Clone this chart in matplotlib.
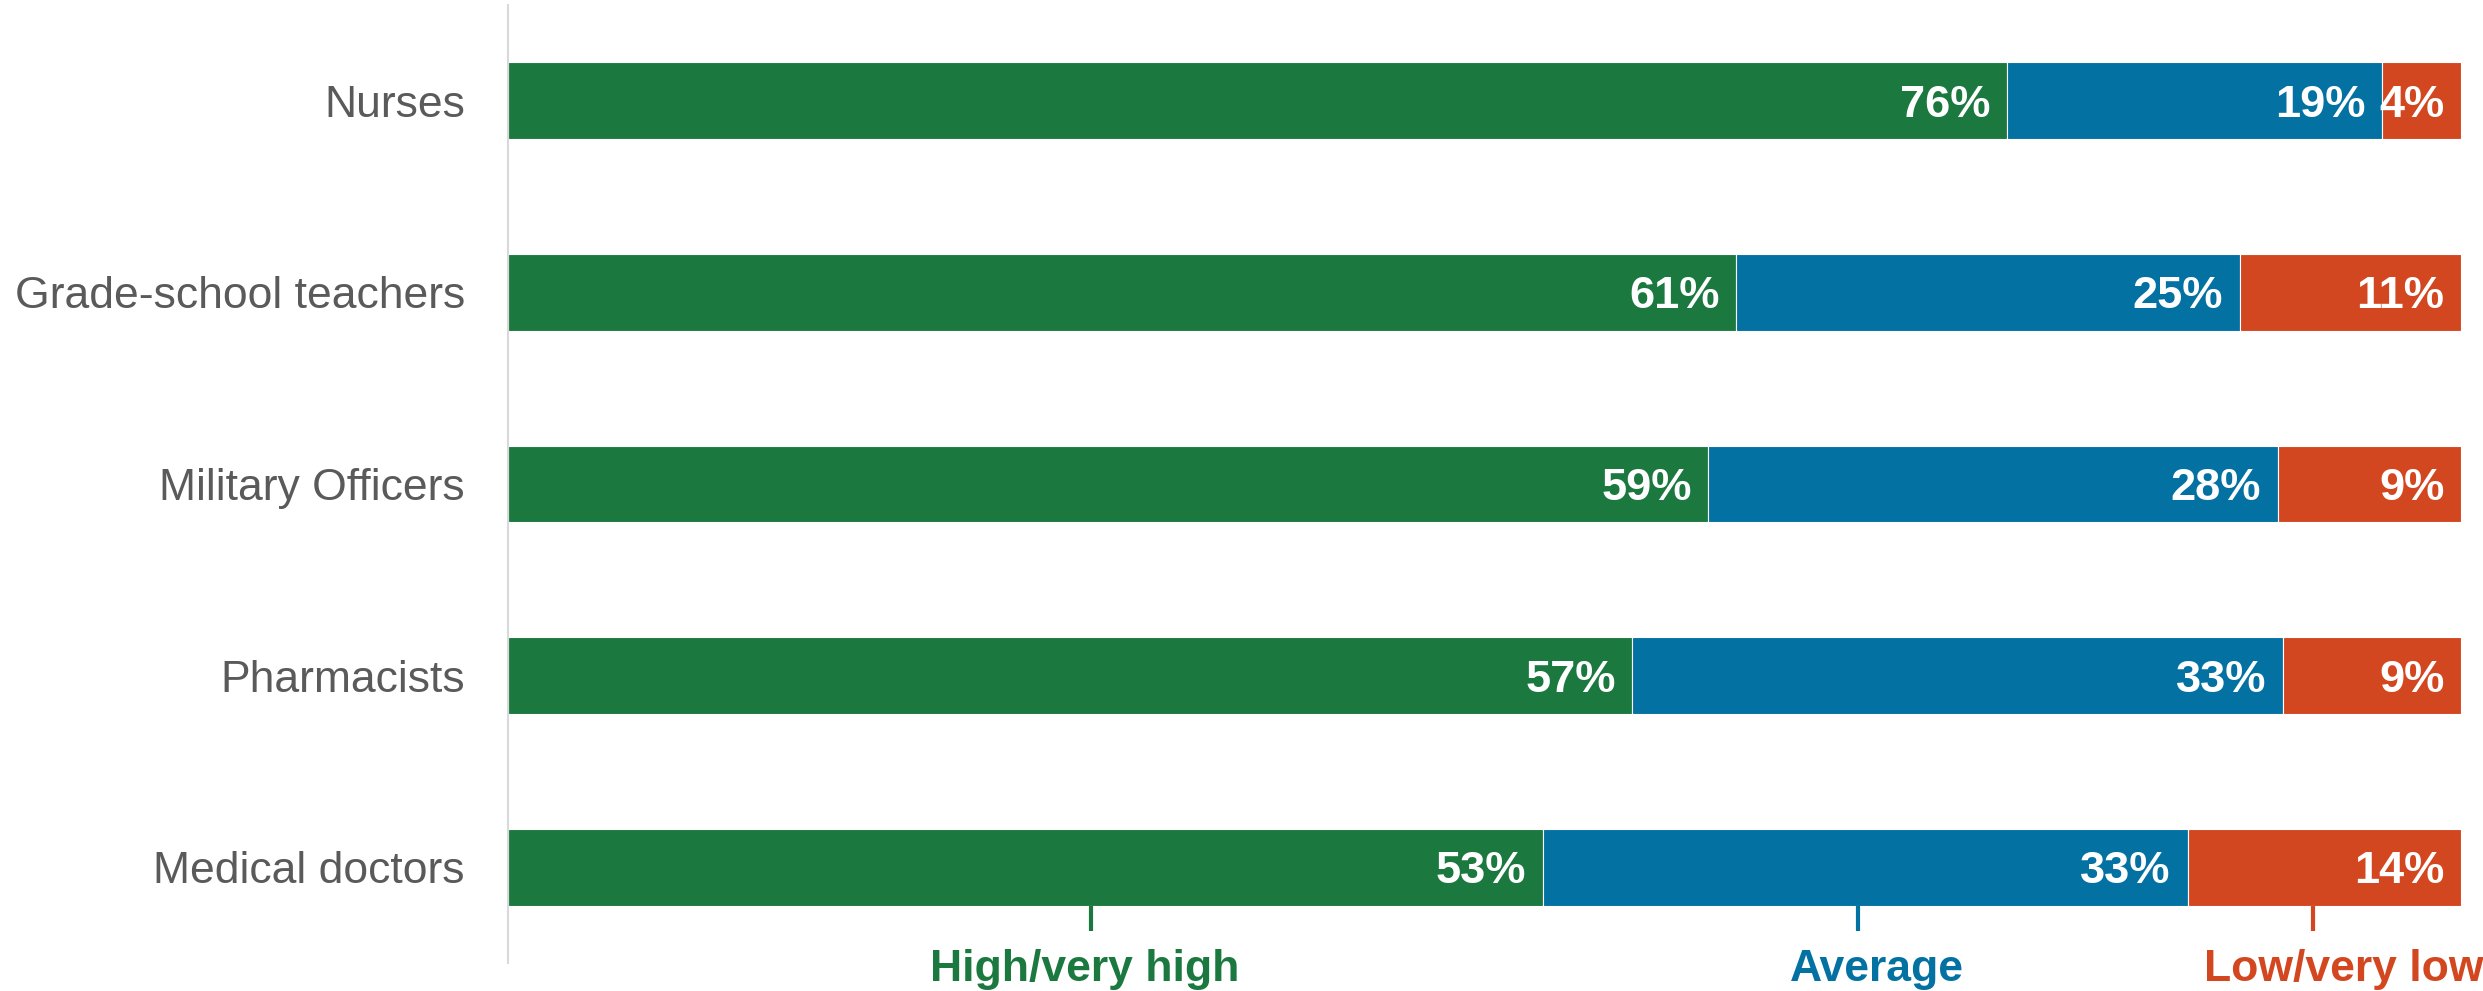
import matplotlib
matplotlib.use("Agg")
import matplotlib.pyplot as plt
import numpy as np

# data (percent, rows are normalised to full width)
categories = ["Nurses", "Grade-school teachers", "Military Officers", "Pharmacists", "Medical doctors"]
series = ["High/very high", "Average", "Low/very low"]
high = [76, 61, 59, 57, 53]
average = [19, 25, 28, 33, 33]
low = [4, 11, 9, 9, 14]

GREEN = "#1b7940"; BLUE = "#0371a2"; RED = "#d34720"; GREYTXT = "#5a5a5a"; AXIS = "#d9d9d9"
colors = [GREEN, BLUE, RED]
# where the bottom legend ticks / words sit (fraction of bar width)
LEG_TICK = [0.2985, 0.691, 0.924]
LEG_TEXT = [0.2955, 0.701, 0.940]

W, H = 2483, 991
fig = plt.figure(figsize=(W / 100, H / 100), dpi=100)
ax = fig.add_axes([508 / W, 28 / H, (2461 - 508) / W, (963 - 5) / H])

vals = np.array([high, average, low], dtype=float)
frac = vals / vals.sum(axis=0)
y = np.arange(len(categories))
left = np.zeros(len(categories))
for k in range(3):
    ax.barh(y, frac[k], left=left, height=0.4, color=colors[k], edgecolor="white", linewidth=0.8)
    for i in range(len(categories)):
        ax.annotate(f"{int(vals[k, i])}%", (left[i] + frac[k, i], y[i]), xytext=(-12, 0),
                    textcoords="offset points", ha="right", va="center_baseline",
                    fontsize=32.5, fontweight="bold", family="Liberation Sans", color="white")
    left += frac[k]

ax.set_xlim(0, 1)
ax.set_ylim(len(categories) - 0.5, -0.5)
ax.set_yticks(y)
ax.set_yticklabels(categories, fontsize=32, family="Liberation Sans", color=GREYTXT)
ax.tick_params(axis="y", length=0, pad=31)
ax.set_xticks([])
for s in ["top", "right", "bottom"]:
    ax.spines[s].set_visible(False)
ax.spines["left"].set_color(AXIS)
ax.spines["left"].set_linewidth(1.5)

# legend under the last bar
yb = y[-1] + 0.2
for k in range(3):
    ax.plot([LEG_TICK[k]] * 2, [yb, yb + 0.135], color=colors[k], lw=3, clip_on=False, solid_capstyle="butt")
    ax.text(LEG_TEXT[k], yb + 0.396, series[k], ha="center", va="baseline", fontsize=32,
            fontweight="bold", family="Liberation Sans", color=colors[k], clip_on=False)

fig.savefig("out.png", dpi=100)
